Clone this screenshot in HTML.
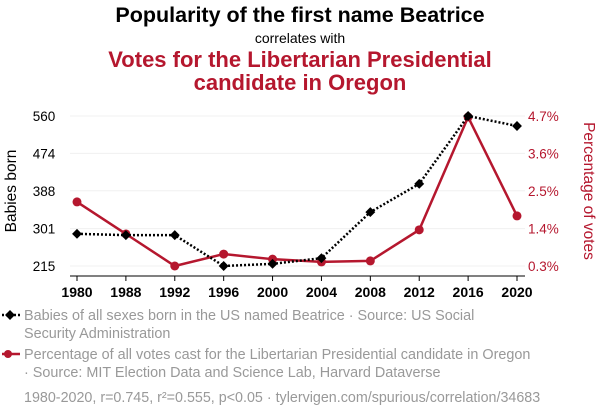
<!DOCTYPE html>
<html><head><meta charset="utf-8"><style>
body{margin:0;background:#fff;font-family:"Liberation Sans",sans-serif;}
svg{display:block}
</style></head><body>
<svg width="600" height="414">
<text x="300" y="22" text-anchor="middle" font-size="21.5" font-weight="bold" fill="#000">Popularity of the first name Beatrice</text>
<text x="300" y="43" text-anchor="middle" font-size="14" fill="#000">correlates with</text>
<text x="300" y="67" text-anchor="middle" font-size="22" font-weight="bold" fill="#b5172e">Votes for the Libertarian Presidential</text>
<text x="300" y="90" text-anchor="middle" font-size="22" font-weight="bold" fill="#b5172e">candidate in Oregon</text>
<g id="grid"></g><g id="axes"></g><g id="marks"></g>
<text transform="translate(16,191) rotate(-90)" text-anchor="middle" font-size="15.5" fill="#000">Babies born</text>
<text transform="translate(584,191) rotate(90)" text-anchor="middle" font-size="15.5" fill="#b5172e">Percentage of votes</text>
<g>
<line x1="2" y1="315" x2="20" y2="315" stroke="#000" stroke-width="2.5" stroke-dasharray="2,2"/>
<rect x="6.5" y="311.5" width="7" height="7" fill="#000" transform="rotate(45 10 315)"/>
<text x="24" y="320" font-size="14.4" fill="#999">Babies of all sexes born in the US named Beatrice · Source: US Social</text>
<text x="24" y="338" font-size="14.4" fill="#999">Security Administration</text></g>
<g>
<line x1="2" y1="354" x2="20" y2="354" stroke="#b5172e" stroke-width="2.5"/>
<circle cx="8" cy="354" r="4" fill="#b5172e"/>
<text x="24" y="359" font-size="14.4" fill="#999">Percentage of all votes cast for the Libertarian Presidential candidate in Oregon</text>
<text x="24" y="377" font-size="14.4" fill="#999">· Source: MIT Election Data and Science Lab, Harvard Dataverse</text></g>
<text x="24" y="402" font-size="14.3" fill="#999">1980-2020, r=0.745, r²=0.555, p&lt;0.05 · tylervigen.com/spurious/correlation/34683</text>
</svg>
<script>
const years=["1980","1988","1992","1996","2000","2004","2008","2012","2016","2020"];
const babies=[289,286,286,215,220,233,339,404,560,537];
const votes=[2.18,1.24,0.3,0.65,0.5,0.42,0.45,1.36,4.67,1.77];
const leftTicks=[215,301,388,474,560];
const rightTicks=[0.3,1.4,2.5,3.6,4.7];
const NS="http://www.w3.org/2000/svg";
const x=i=>77+i*(440/(years.length-1));
const yL=v=>266-(v-215)/(560-215)*150;
const yR=v=>266-(v-0.3)/(4.7-0.3)*150;
function mk(t,a,p){const e=document.createElementNS(NS,t);for(const k in a)e.setAttribute(k,a[k]);p.appendChild(e);return e;}
const grid=document.getElementById('grid'),axes=document.getElementById('axes'),marks=document.getElementById('marks');
leftTicks.forEach((v,i)=>{
 const l=mk('line',{x1:70,x2:525,y1:yL(v),y2:yL(v),stroke:'#f0f0f0','stroke-width':1},grid);
 
 
 const t=mk('text',{x:44,y:yL(v)+5,'font-size':13.5,'text-anchor':'middle',fill:'#000'},axes);t.textContent=v;
 
 
});
rightTicks.forEach(v=>{
 const t=mk('text',{x:528,y:yR(v)+5,'font-size':13.5,fill:'#b5172e'},axes);t.textContent=v+'%';
 
 
});
const ax=mk('line',{x1:70,x2:525,y1:276,y2:276,stroke:'#000','stroke-width':1},axes);


years.forEach((yr,i)=>{
 mk('line',{x1:x(i),x2:x(i),y1:276,y2:281,stroke:'#000'},axes);
 const t=mk('text',{x:x(i),y:297,'font-size':14,'font-weight':'bold','text-anchor':'middle',fill:'#000'},axes);t.textContent=yr;
 
 
});
const rp=mk('polyline',{points:votes.map((v,i)=>x(i)+','+yR(v)).join(' '),fill:'none',stroke:'#b5172e','stroke-width':2.5},marks);


votes.forEach((v,i)=>{const c=mk('circle',{cx:x(i),cy:yR(v),r:4.5,fill:'#b5172e'},marks);
 
 });
const bp=mk('polyline',{points:babies.map((v,i)=>x(i)+','+yL(v)).join(' '),fill:'none',stroke:'#000','stroke-width':2.5,'stroke-dasharray':'2,2'},marks);


babies.forEach((v,i)=>{const r=mk('rect',{x:x(i)-3.5,y:yL(v)-3.5,width:7,height:7,fill:'#000',transform:`rotate(45 ${x(i)} ${yL(v)})`},marks);
 
 });
</script>
</body></html>
